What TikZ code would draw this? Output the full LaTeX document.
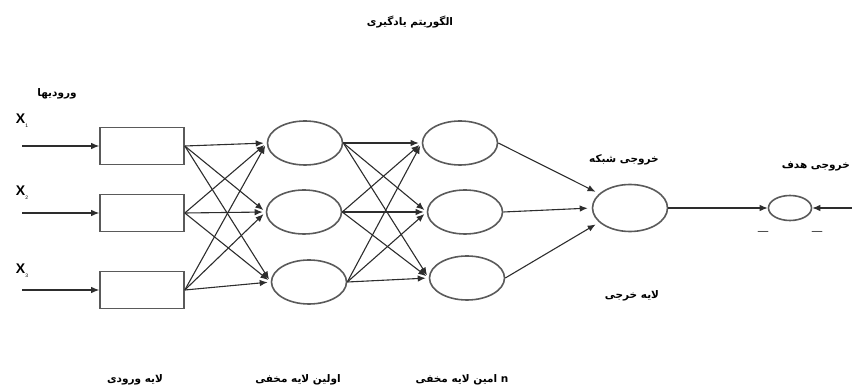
\documentclass[tikz,border=0pt]{standalone}
\usepackage{fontspec}
\setmainfont{Liberation Sans}
\newfontfamily\farsi[Script=Arabic]{DejaVu Sans}
\TeXXeTstate=1
\usepackage{xcolor}
\definecolor{Trait}{RGB}{45,45,45}
\definecolor{Bord}{RGB}{90,90,90}
\usetikzlibrary{shapes,arrows.meta,positioning}
\newcommand{\fatxt}[1]{{\farsi\bfseries\beginR #1\endR}}

\begin{document}
\begin{tikzpicture}[x=1pt,y=-1pt,
  neurone/.style={ellipse,draw=Bord,line width=1.6pt,minimum width=75pt,minimum height=44pt,inner sep=0pt},
  couche/.style={rectangle,draw=Bord,line width=1.6pt,minimum width=84pt,minimum height=37pt,inner sep=0pt},
  lien/.style={draw=Trait,line width=1.1pt,-{Latex[length=8pt,width=6.5pt]}},
  etiq/.style={font=\fontsize{10.5}{12}\selectfont},
  entree/.style={font=\fontsize{14}{16}\selectfont}]
    \useasboundingbox (0,0) rectangle (852,387);
    % couches
    \node[couche](e1) at(142,146){};
    \node[couche](e2) at(142,213){};
    \node[couche](e3) at(142,290){};
    \node[neurone](a1) at(305,143){};
    \node[neurone](a2) at(304,212){};
    \node[neurone](a3) at(309,282){};
    \node[neurone](b1) at(460,143){};
    \node[neurone](b2) at(465,212){};
    \node[neurone](b3) at(467,278){};
    \node[neurone,minimum height=47pt](s) at(630,208){};
    \node[neurone,minimum width=43pt,minimum height=25pt](c) at(790,208){};
    \coordinate(x1) at(22,146);
    \coordinate(x2) at(22,213);
    \coordinate(x3) at(22,290);
    \coordinate(d) at(852,208);
    % liens
    \draw[lien](x1)--(e1.west);
    \draw[lien](x2)--(e2.west);
    \draw[lien](x3)--(e3.west);
    \foreach \i in {1,2,3}{
      \foreach \j in {1,2,3}{
        \draw[lien,shorten >=3pt](e\i.east)--(a\j.west);
        \draw[lien,shorten >=3pt](a\i.east)--(b\j.west);
      }}
    \draw[lien,shorten >=4pt](b1.east)--(s.155);
    \draw[lien,shorten >=4pt](b2.east)--(s.west);
    \draw[lien,shorten >=4pt](b3.east)--(s.205);
    \draw[lien](s.east)--(c.west);
    \draw[lien](d)--(c.east);
    % textes
    \node[etiq](titre) at(410,22){\fatxt{الگوریتم یادگیری}};
    \node[etiq](ventree) at(57,94){\fatxt{ورودیها}};
    \node[entree](lx1) at(22,121){\textbf{X}\raisebox{-4pt}{\tiny 1}};
    \node[entree](lx2) at(22,193){\textbf{X}\raisebox{-4pt}{\tiny 2}};
    \node[entree](lx3) at(22,271){\textbf{X}\raisebox{-4pt}{\tiny 3}};
    \node[etiq](ls) at(624,160){\fatxt{خروجی شبکه}};
    \node[etiq](lc) at(632,296){\fatxt{لایه خرجی}};
    \node[etiq,anchor=east,inner sep=1pt](lh) at(851,166){\fatxt{خروجی هدف}};
    \node[etiq](t1) at(763,233){—};
    \node[etiq](t2) at(817,233){—};
    \node[etiq](le) at(135,380){\fatxt{لایه ورودی}};
    \node[etiq](la) at(298,380){\fatxt{اولین لایه مخفی}};
    \node[etiq](lb) at(462,380){\fatxt{n امین لایه مخفی}};
\end{tikzpicture}
\end{document}
